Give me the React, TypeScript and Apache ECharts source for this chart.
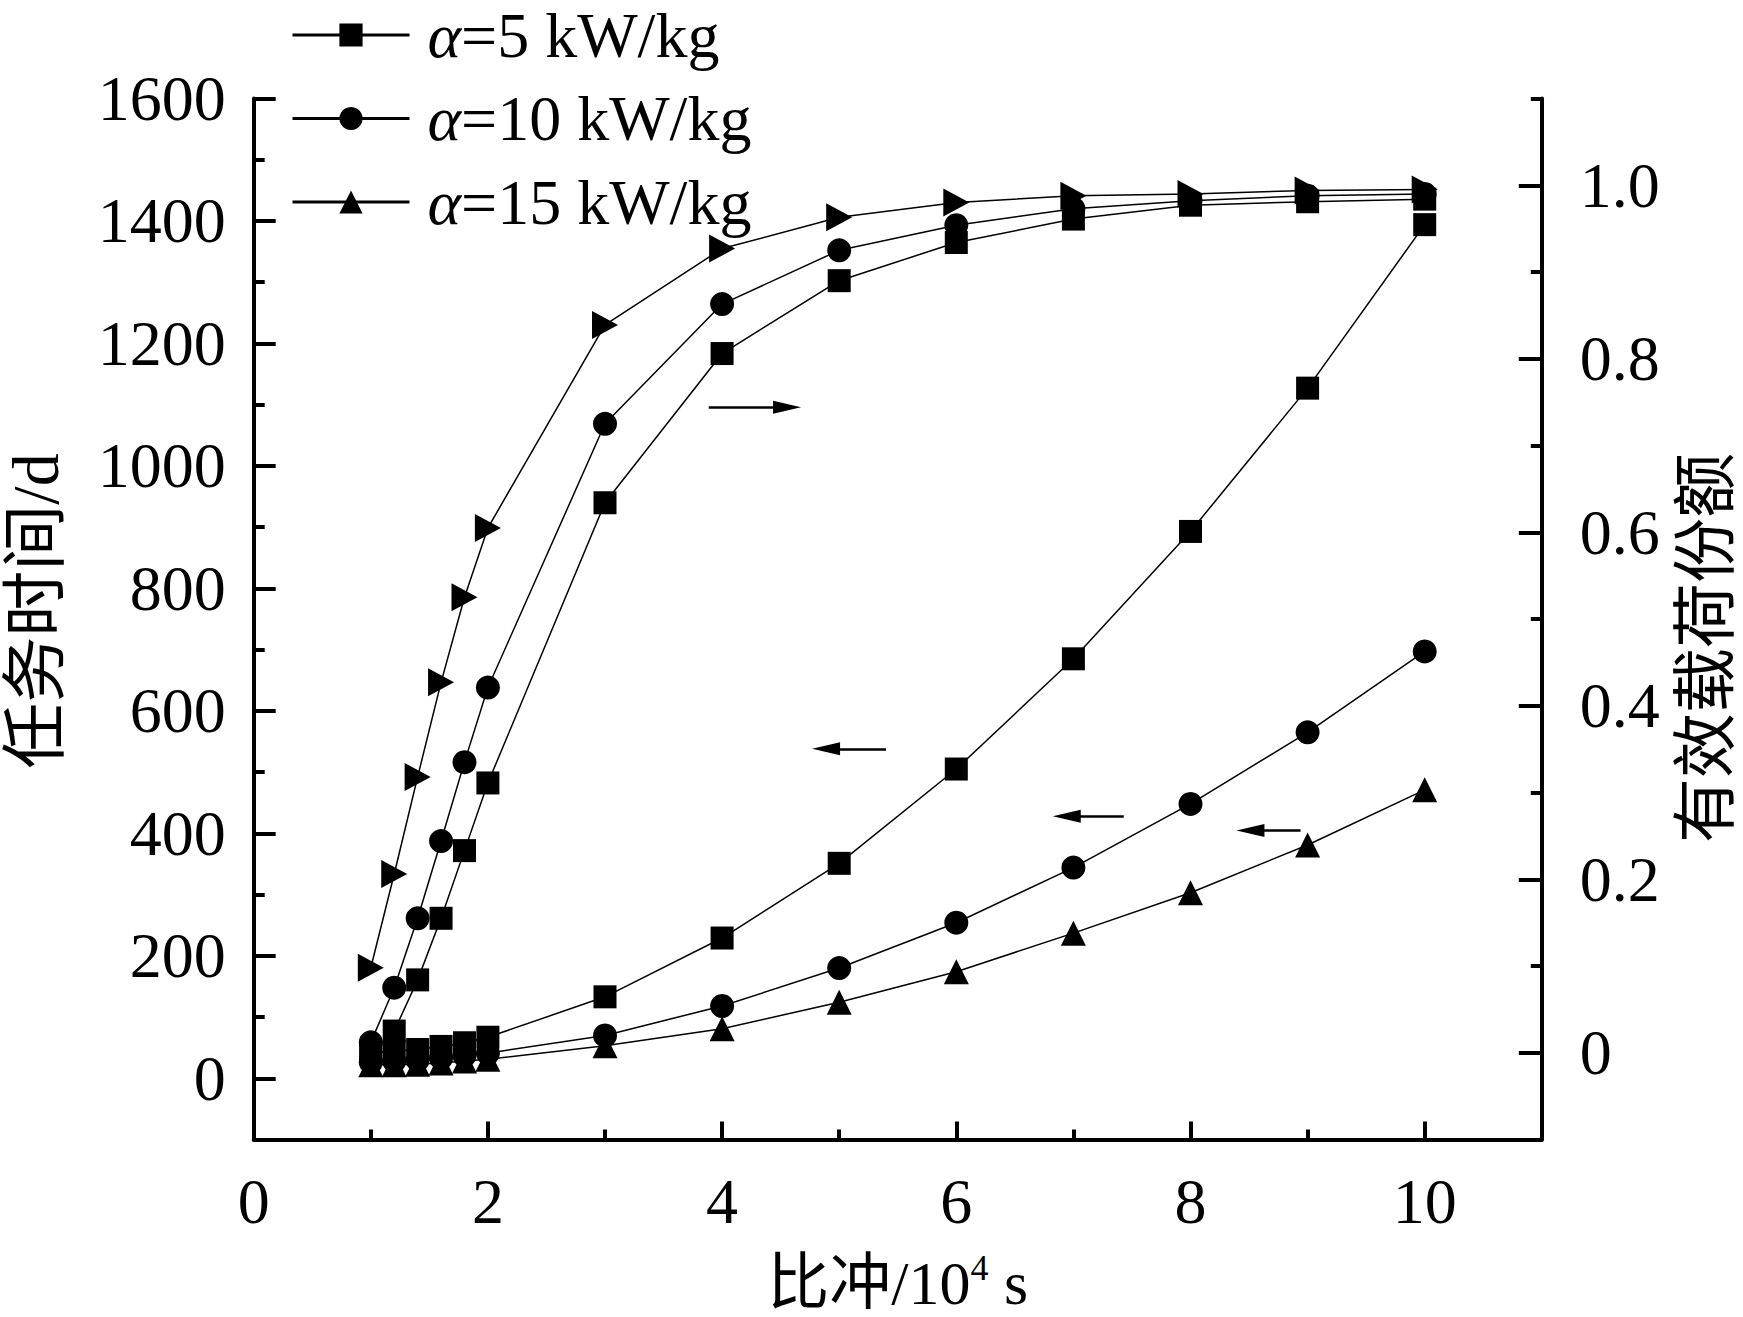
import React, { useEffect, useRef } from "react";
import * as echarts from "echarts";

// ---------- data ----------
const xValues = [1, 1.2, 1.4, 1.6, 1.8, 2, 3, 4, 5, 6, 7, 8, 9, 10];
const legendNames = ["α=5 kW/kg", "α=10 kW/kg", "α=15 kW/kg"];
// mission time (left axis, d)
const time5 = [42, 44, 47, 52, 58, 67, 133, 229, 351, 505, 685, 893, 1127, 1394];
const time10 = [26, 28, 30, 33, 37, 41, 70, 118, 180, 254, 344, 448, 565, 697];
const time15 = [22, 22, 23, 25, 28, 31, 53, 81, 124, 174, 237, 303, 381, 471];
// payload fraction (right axis)
const payload5 = [0.0, 0.025, 0.084, 0.155, 0.233, 0.311, 0.634, 0.806, 0.89, 0.934, 0.961, 0.977, 0.981, 0.984];
const payload10 = [0.012, 0.075, 0.155, 0.244, 0.335, 0.421, 0.725, 0.863, 0.925, 0.954, 0.973, 0.982, 0.988, 0.99];
const payload15 = [0.098, 0.206, 0.318, 0.427, 0.525, 0.605, 0.839, 0.927, 0.963, 0.98, 0.988, 0.99, 0.994, 0.995];

// ticks
const xTickLabels = [0, 2, 4, 6, 8, 10];
const xMinorTicks = [1, 3, 5, 7, 9];
const leftTickLabels = [0, 200, 400, 600, 800, 1000, 1200, 1400, 1600];
const leftMinorTicks = [100, 300, 500, 700, 900, 1100, 1300, 1500];
const rightTickLabels = [0, 0.2, 0.4, 0.6, 0.8, 1.0];
const rightMinorTicks = [0.1, 0.3, 0.5, 0.7, 0.9, 1.1];

// annotation arrows in data coordinates (left axis): [start, end]
const arrows = [
  [[3.886, 1096], [4.555, 1096]],
  [[5.4, 538], [4.888, 538]],
  [[7.43, 428], [6.943, 428]],
  [[8.94, 404.6], [8.512, 404.6]],
];

const SERIF = "'Liberation Serif', 'Times New Roman', 'Noto Sans CJK SC', serif";
const BLACK = "#000";
const X_RANGE = { min: 0, max: 11, interval: 1 };
const L_RANGE = { min: -100, max: 1600, interval: 100 };
const R_RANGE = { min: -0.1, max: 1.1, interval: 0.1 };

export default function App() {
  const ref = useRef<HTMLDivElement>(null);

  useEffect(() => {
    if (!ref.current) return;
    const chart = echarts.init(ref.current, undefined, { renderer: "svg" });

    const gridRect = {
      left: 253.7,
      right: 201.2,
      top: 98.5,
      bottom: 177.5,
      containLabel: false,
      outerBoundsMode: "none",
    };

    const hiddenParts = {
      axisLine: { show: false, onZero: false },
      axisLabel: { show: false },
      splitLine: { show: false },
    };
    const tickAxis = (
      range: any,
      gridIndex: number,
      position: string,
      values: number[] | null,
      length: number
    ) => ({
      type: "value",
      gridIndex,
      position,
      ...range,
      ...hiddenParts,
      axisTick: values
        ? { show: true, inside: true, length, customValues: values, lineStyle: { color: BLACK, width: 4 } }
        : { show: false },
    });

    const lineSeries = (
      name: string,
      values: number[],
      yAxisIndex: number,
      symbol: string,
      symbolSize: number | number[],
      extra: any = {}
    ) => ({
      name,
      type: "line",
      xAxisIndex: 0,
      yAxisIndex,
      data: xValues.map((x, i) => [x, values[i]]),
      symbol,
      symbolSize,
      showSymbol: true,
      lineStyle: { color: BLACK, width: 1.5 },
      itemStyle: { color: BLACK },
      emphasis: { disabled: true },
      ...extra,
    });

    const option: any = {
      animation: false,
      backgroundColor: "#fff",
      grid: [gridRect, gridRect, gridRect, gridRect, gridRect],
      legend: {
        orient: "vertical",
        left: 291,
        top: 3,
        padding: 0,
        itemGap: 19.5,
        itemWidth: 117,
        itemHeight: 29,
        data: legendNames,
        selectedMode: false,
        formatter: (n: string) => n.replace("α", "{i|α}"),
        lineStyle: { width: 3, color: BLACK },
        itemStyle: { color: BLACK },
        textStyle: {
          fontFamily: SERIF,
          fontSize: 64,
          lineHeight: 64,
          color: BLACK,
          padding: [0, 0, 0, 13],
          rich: {
            i: { fontFamily: SERIF, fontSize: 64, lineHeight: 64, fontStyle: "italic", color: BLACK },
          },
        },
      },
      xAxis: [
        {
          type: "value",
          gridIndex: 0,
          position: "bottom",
          ...X_RANGE,
          name: "{a|比冲/10}{s|4}{a| s}",
          nameLocation: "middle",
          nameGap: 110,
          nameTextStyle: {
            rich: {
              a: { fontFamily: SERIF, fontSize: 62, lineHeight: 66, color: BLACK },
              s: { fontFamily: SERIF, fontSize: 36, lineHeight: 48, verticalAlign: "top", color: BLACK },
            },
          },
          axisLine: { show: true, onZero: false, lineStyle: { color: BLACK, width: 4 } },
          axisTick: { show: false },
          axisLabel: {
            show: true,
            customValues: xTickLabels,
            margin: 30,
            fontFamily: SERIF,
            fontSize: 64,
            color: BLACK,
            formatter: (v: number) => String(v),
          },
          splitLine: { show: false },
        },
        tickAxis(X_RANGE, 1, "bottom", xTickLabels, 18),
        tickAxis(X_RANGE, 2, "bottom", xMinorTicks, 10),
        tickAxis(X_RANGE, 3, "bottom", null, 0),
        tickAxis(X_RANGE, 4, "bottom", null, 0),
      ],
      yAxis: [
        {
          type: "value",
          gridIndex: 0,
          position: "left",
          ...L_RANGE,
          name: "任务时间/d",
          nameLocation: "middle",
          nameRotate: 90,
          nameGap: 187,
          nameTextStyle: {
            fontFamily: SERIF,
            fontSize: 66,
            lineHeight: 62,
            color: BLACK,
            padding: [0, 0, 0, 16],
          },
          axisLine: { show: true, onZero: false, lineStyle: { color: BLACK, width: 4 } },
          axisTick: { show: false },
          axisLabel: {
            show: true,
            customValues: leftTickLabels,
            margin: 28,
            fontFamily: SERIF,
            fontSize: 64,
            color: BLACK,
            formatter: (v: number) => String(v),
          },
          splitLine: { show: false },
        },
        {
          type: "value",
          gridIndex: 0,
          position: "right",
          ...R_RANGE,
          name: "有效载荷份额",
          nameLocation: "middle",
          nameRotate: 90,
          nameGap: 133,
          nameTextStyle: {
            fontFamily: SERIF,
            fontSize: 65,
            lineHeight: 62,
            color: BLACK,
            padding: [0, 58, 0, 0],
          },
          axisLine: { show: true, onZero: false, lineStyle: { color: BLACK, width: 4 } },
          axisTick: { show: false },
          axisLabel: {
            show: true,
            customValues: rightTickLabels,
            margin: 38,
            fontFamily: SERIF,
            fontSize: 64,
            color: BLACK,
            formatter: (v: number) => (Math.abs(v) < 1e-9 ? "0" : v.toFixed(1)),
          },
          splitLine: { show: false },
        },
        tickAxis(L_RANGE, 1, "left", leftTickLabels, 22),
        tickAxis(L_RANGE, 2, "left", leftMinorTicks, 11),
        tickAxis(R_RANGE, 3, "right", rightTickLabels, 23),
        tickAxis(R_RANGE, 4, "right", rightMinorTicks, 11),
      ],
      series: [
        lineSeries(legendNames[0], time5, 0, "rect", 23, {
          markLine: {
            silent: true,
            symbol: ["none", "triangle"],
            symbolSize: [13, 28],
            label: { show: false },
            lineStyle: { color: BLACK, width: 2.5, type: "solid" },
            emphasis: { disabled: true },
            data: arrows.map((a) => [{ coord: a[0] }, { coord: a[1] }]),
          },
        }),
        lineSeries(legendNames[1], time10, 0, "circle", 24),
        lineSeries(legendNames[2], time15, 0, "triangle", 25),
        lineSeries("payload α=5", payload5, 1, "rect", 23),
        lineSeries("payload α=10", payload10, 1, "circle", 24),
        lineSeries("payload α=15", payload15, 1, "path://M0,0L10,5L0,10Z", [26, 28]),
      ],
    };

    chart.setOption(option);
    return () => chart.dispose();
  }, []);

  return (
    <div
      ref={ref}
      style={{ position: "absolute", left: 0, top: 0, width: 1743, height: 1317, background: "#fff" }}
    />
  );
}
